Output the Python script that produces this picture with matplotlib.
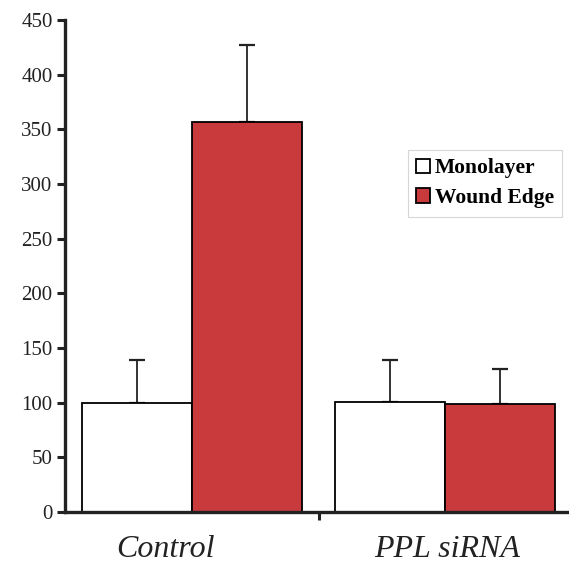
import matplotlib.pyplot as plt
import numpy as np

# values
groups = ['Control', 'PPL siRNA']
series = ['Monolayer', 'Wound Edge']
mono = [100, 101]
mono_err = [39, 38]
wound = [357, 99]
wound_err = [70, 32]
colors = ['white', '#c93a3c']
yticks = list(range(0, 451, 50))

plt.rcParams['font.family'] = ['Liberation Serif', 'DejaVu Serif']

fig = plt.figure(figsize=(5.69, 5.64), dpi=100)
ax = fig.add_axes([65/569, 52/564, 504/569, 492/564])

w = 1.0
centers = np.array([0, 2.3])
ax.bar(centers - w/2, mono, w, color=colors[0], edgecolor='black', linewidth=1.3,
       label=series[0], zorder=2)
ax.bar(centers + w/2, wound, w, color=colors[1], edgecolor='black', linewidth=1.3,
       label=series[1], zorder=2)
ax.errorbar(centers - w/2, mono, yerr=[np.zeros(2), mono_err], fmt='none',
            ecolor='#222222', elinewidth=1.3, capsize=6, capthick=1.6, zorder=1)
ax.errorbar(centers + w/2, wound, yerr=[np.zeros(2), wound_err], fmt='none',
            ecolor='#222222', elinewidth=1.3, capsize=6, capthick=1.6, zorder=1)

ax.set_ylim(0, 450)
ax.set_xlim(-1.155, 3.427)
ax.set_yticks(yticks)
ax.tick_params(axis='y', direction='out', length=6, width=2.2, labelsize=15, pad=3,
               colors='#222222')
ax.set_xticks([1.15])
ax.set_xticklabels([])
ax.tick_params(axis='x', direction='out', length=6, width=2.2, colors='#222222')

for s in ['top', 'right']:
    ax.spines[s].set_visible(False)
ax.spines['left'].set_linewidth(2.4)
ax.spines['bottom'].set_linewidth(2.4)
ax.spines['left'].set_color('#222222')
ax.spines['bottom'].set_color('#222222')

label_x = [-0.245, 2.32]
for x, g in zip(label_x, groups):
    ax.text(x, -0.092, g, transform=ax.get_xaxis_transform(), ha='center', va='baseline',
            fontsize=23, style='italic', color='#222222')

leg = ax.legend(loc='upper left', bbox_to_anchor=(0.68, 0.736), prop={'weight': 'bold', 'size': 15.5},
                frameon=True, fancybox=False, edgecolor='#cccccc', handlelength=0.65,
                handleheight=0.65, handletextpad=0.2, borderpad=0.4, labelspacing=0.45,
                borderaxespad=0)
leg.get_frame().set_linewidth(0.8)

fig.savefig('out.png', dpi=100)
